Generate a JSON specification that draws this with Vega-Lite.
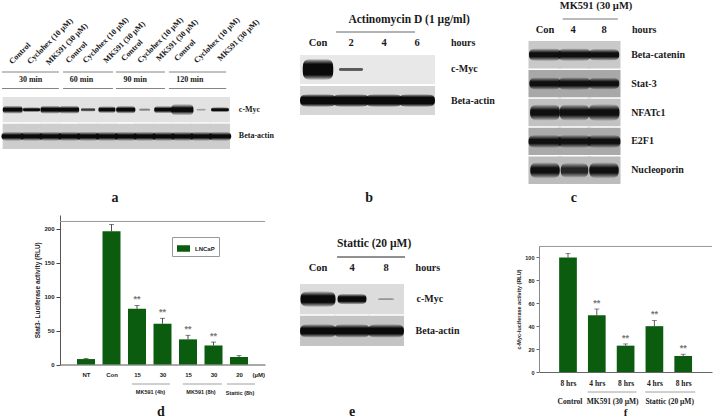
{"$schema":"https://vega.github.io/schema/vega-lite/v6.json","autosize":{"type":"none"},"padding":0,"width":713,"height":420,"background":"white","config":{"view":{"stroke":null},"text":{"font":"Liberation Serif","fontWeight":"bold","color":"#1a1a1a"}},
"resolve":{"scale":{"x":"independent","y":"independent","color":"independent","opacity":"independent","size":"independent","shape":"independent"},"axis":{"x":"independent","y":"independent"}},
"layer":[
{"data":{"values":[
{"lane":1,"protein":"c-Myc","signal":0.75,"form":"band"},{"lane":2,"protein":"c-Myc","signal":0.55,"form":"thin"},{"lane":3,"protein":"c-Myc","signal":0.75,"form":"band"},{"lane":4,"protein":"c-Myc","signal":0.75,"form":"band"},{"lane":5,"protein":"c-Myc","signal":0.38,"form":"thin"},{"lane":6,"protein":"c-Myc","signal":0.55,"form":"band"},{"lane":7,"protein":"c-Myc","signal":0.7,"form":"band"},{"lane":8,"protein":"c-Myc","signal":0.22,"form":"thin"},{"lane":9,"protein":"c-Myc","signal":0.65,"form":"band"},{"lane":10,"protein":"c-Myc","signal":0.95,"form":"thick"},{"lane":11,"protein":"c-Myc","signal":0.15,"form":"thin"},{"lane":12,"protein":"c-Myc","signal":0.6,"form":"thin"},
{"lane":1,"protein":"Beta-actin","signal":0.95,"form":"band"},{"lane":2,"protein":"Beta-actin","signal":0.95,"form":"band"},{"lane":3,"protein":"Beta-actin","signal":0.95,"form":"band"},{"lane":4,"protein":"Beta-actin","signal":0.95,"form":"band"},{"lane":5,"protein":"Beta-actin","signal":0.95,"form":"band"},{"lane":6,"protein":"Beta-actin","signal":0.95,"form":"band"},{"lane":7,"protein":"Beta-actin","signal":0.95,"form":"band"},{"lane":8,"protein":"Beta-actin","signal":0.95,"form":"band"},{"lane":9,"protein":"Beta-actin","signal":0.95,"form":"band"},{"lane":10,"protein":"Beta-actin","signal":0.95,"form":"band"},{"lane":11,"protein":"Beta-actin","signal":0.95,"form":"band"},{"lane":12,"protein":"Beta-actin","signal":0.95,"form":"band"}]},
"encoding":{"x":{"field":"lane","type":"quantitative","axis":null,"scale":{"domain":[1,12],"range":[12.7,220]}},"y":{"field":"protein","type":"nominal","axis":null,"scale":{"type":"band","domain":["c-Myc","Beta-actin"],"range":[97,149],"paddingInner":0.05,"paddingOuter":0}}},
"layer":[
{"mark":{"type":"rect","width":20},"encoding":{"color":{"field":"protein","type":"nominal","legend":null,"scale":{"domain":["c-Myc","Beta-actin"],"range":["#e2e2e2","#cdcdcd"]}}}},
{"mark":{"type":"point","filled":true,"fill":{"gradient":"linear","x1":0,"y1":0,"x2":0,"y2":1,"stops":[{"offset":0,"color":"rgba(0,0,0,0)"},{"offset":0.15,"color":"rgba(10,10,10,0.4)"},{"offset":0.35,"color":"#0a0a0a"},{"offset":0.65,"color":"#0a0a0a"},{"offset":0.85,"color":"rgba(10,10,10,0.4)"},{"offset":1,"color":"rgba(0,0,0,0)"}]},"stroke":null},"encoding":{"size":{"field":"signal","type":"quantitative","legend":null,"scale":{"domain":[0,1],"range":[0,529]}},"opacity":{"field":"signal","type":"quantitative","legend":null,"scale":{"domain":[0,0.5],"range":[0,1],"clamp":true}},"shape":{"field":"form","type":"nominal","legend":null,"scale":{"domain":["thin","band","thick"],"range":["M-1,0C-1,-.3 -.75,-.3 0,-.3S1,-.3 1,0C1,.3 .75,.3 0,.3S-1,.3 -1,0Z","M-1,0C-1,-.42 -.75,-.42 0,-.42S1,-.42 1,0C1,.42 .75,.42 0,.42S-1,.42 -1,0Z","M-1,0C-1,-.52 -.75,-.52 0,-.52S1,-.52 1,0C1,.52 .75,.52 0,.52S-1,.52 -1,0Z"]}}}},
{"data":{"values":[{"lane":13,"protein":"c-Myc"},{"lane":13,"protein":"Beta-actin"}]},"mark":{"type":"text","align":"left","fontSize":8},"encoding":{"text":{"field":"protein"}}}
]},
{"encoding":{"x":{"field":"lane","type":"quantitative","axis":null,"scale":{"domain":[1,12],"range":[12.7,220]}},"y":{"field":"level","type":"quantitative","axis":null,"scale":{"domain":[0,42],"range":[0,420]}}},
"layer":[
{"data":{"values":[{"lane":0.9,"level":6.3,"label":"Control"},{"lane":1.85,"level":6.3,"label":"Cyclohex (10 µM)"},{"lane":2.85,"level":6.4,"label":"MK591 (30 µM)"},{"lane":3.9,"level":6.2,"label":"Control"},{"lane":4.8,"level":6.2,"label":"Cyclohex (10 µM)"},{"lane":5.9,"level":6.2,"label":"MK591 (30 µM)"},{"lane":6.85,"level":6,"label":"Control"},{"lane":7.7,"level":6.2,"label":"Cyclohex (10 µM)"},{"lane":8.7,"level":6,"label":"MK591 (30 µM)"},{"lane":9.65,"level":6,"label":"Control"},{"lane":10.7,"level":6.2,"label":"Cyclohex (10 µM)"},{"lane":11.95,"level":6,"label":"MK591 (30 µM)"}]},"mark":{"type":"text","angle":315,"align":"left","baseline":"middle","fontSize":8},"encoding":{"text":{"field":"label"}}},
{"data":{"values":[{"lane":1.95,"level":8,"label":"30 min"},{"lane":4.65,"level":8,"label":"60 min"},{"lane":7.5,"level":8,"label":"90 min"},{"lane":10.4,"level":8,"label":"120 min"}]},"mark":{"type":"text","baseline":"middle","fontSize":8},"encoding":{"text":{"field":"label"}}},
{"data":{"values":[{"lane":6.43,"level":19.8,"label":"a"}]},"mark":{"type":"text","baseline":"middle","fontSize":14},"encoding":{"text":{"field":"label"}}},
{"data":{"values":[{"lane":0.43,"laneTo":3.45,"level":7.2},{"lane":3.67,"laneTo":6.32,"level":7.2},{"lane":6.48,"laneTo":9.08,"level":7.2},{"lane":9.29,"laneTo":12.33,"level":7.2},{"lane":0.43,"laneTo":3.45,"level":8.85},{"lane":3.67,"laneTo":6.32,"level":8.85},{"lane":6.48,"laneTo":9.08,"level":8.85},{"lane":9.29,"laneTo":12.33,"level":8.85}]},"mark":{"type":"rule","color":"#666","strokeWidth":0.8},"encoding":{"x2":{"field":"laneTo"}}}
]},
{"data":{"values":[
{"lane":1,"protein":"c-Myc","signal":0.72,"form":"blob"},{"lane":2,"protein":"c-Myc","signal":0.45,"form":"thin"},{"lane":3,"protein":"c-Myc","signal":0,"form":"thin"},{"lane":4,"protein":"c-Myc","signal":0,"form":"thin"},
{"lane":1,"protein":"Beta-actin","signal":1,"form":"band"},{"lane":2,"protein":"Beta-actin","signal":1,"form":"band"},{"lane":3,"protein":"Beta-actin","signal":1,"form":"band"},{"lane":4,"protein":"Beta-actin","signal":1,"form":"band"}]},
"encoding":{"x":{"field":"lane","type":"quantitative","axis":null,"scale":{"domain":[1,4],"range":[318,417]}},"y":{"field":"protein","type":"nominal","axis":null,"scale":{"type":"band","domain":["c-Myc","Beta-actin"],"range":[55,115],"paddingInner":0.07,"paddingOuter":0}}},
"layer":[
{"mark":{"type":"rect","width":36},"encoding":{"color":{"field":"protein","type":"nominal","legend":null,"scale":{"domain":["c-Myc","Beta-actin"],"range":["#e8e8e8","#d6d6d6"]}}}},
{"mark":{"type":"point","filled":true,"fill":{"gradient":"linear","x1":0,"y1":0,"x2":0,"y2":1,"stops":[{"offset":0,"color":"rgba(0,0,0,0)"},{"offset":0.1,"color":"rgba(10,10,10,0.5)"},{"offset":0.25,"color":"#0a0a0a"},{"offset":0.75,"color":"#0a0a0a"},{"offset":0.9,"color":"rgba(10,10,10,0.5)"},{"offset":1,"color":"rgba(0,0,0,0)"}]},"stroke":null},"encoding":{"size":{"field":"signal","type":"quantitative","legend":null,"scale":{"domain":[0,1],"range":[0,1296]}},"opacity":{"field":"signal","type":"quantitative","legend":null,"scale":{"domain":[0,0.7],"range":[0,1],"clamp":true}},"shape":{"field":"form","type":"nominal","legend":null,"scale":{"domain":["thin","band","blob"],"range":["M-1,0C-1,-.16 -.75,-.16 0,-.16S1,-.16 1,0C1,.16 .75,.16 0,.16S-1,.16 -1,0Z","M-1,0C-1,-.36 -.75,-.36 0,-.36S1,-.36 1,0C1,.36 .75,.36 0,.36S-1,.36 -1,0Z","M-1,0C-1,-.7 -.8,-.7 0,-.7S1,-.7 1,0C1,.7 .8,.7 0,.7S-1,.7 -1,0Z"]}}}},
{"data":{"values":[{"lane":5.03,"protein":"c-Myc"},{"lane":5.03,"protein":"Beta-actin"}]},"mark":{"type":"text","align":"left","fontSize":10},"encoding":{"text":{"field":"protein"}}}
]},
{"encoding":{"x":{"field":"lane","type":"quantitative","axis":null,"scale":{"domain":[1,4],"range":[318,417]}},"y":{"field":"level","type":"quantitative","axis":null,"scale":{"domain":[0,42],"range":[0,420]}}},
"layer":[
{"data":{"values":[{"lane":1,"level":4.3,"label":"Con"},{"lane":2,"level":4.3,"label":"2"},{"lane":3,"level":4.3,"label":"4"},{"lane":4,"level":4.3,"label":"6"}]},"mark":{"type":"text","baseline":"middle","fontSize":10.5},"encoding":{"text":{"field":"label"}}},
{"data":{"values":[{"lane":5.03,"level":4.3,"label":"hours"}]},"mark":{"type":"text","align":"left","baseline":"middle","fontSize":10},"encoding":{"text":{"field":"label"}}},
{"data":{"values":[{"lane":3.76,"level":2,"label":"Actinomycin D (1 µg/ml)"}]},"mark":{"type":"text","baseline":"middle","fontSize":11.5},"encoding":{"text":{"field":"label"}}},
{"data":{"values":[{"lane":2.55,"level":19.8,"label":"b"}]},"mark":{"type":"text","baseline":"middle","fontSize":14},"encoding":{"text":{"field":"label"}}},
{"data":{"values":[{"lane":1.55,"laneTo":3.94,"level":3.2}]},"mark":{"type":"rule","color":"#666","strokeWidth":1},"encoding":{"x2":{"field":"laneTo"}}}
]},
{"data":{"values":[
{"lane":1,"protein":"Beta-catenin","signal":0.95,"form":"band"},{"lane":2,"protein":"Beta-catenin","signal":0.95,"form":"band"},{"lane":3,"protein":"Beta-catenin","signal":0.85,"form":"band"},
{"lane":1,"protein":"Stat-3","signal":0.9,"form":"band"},{"lane":2,"protein":"Stat-3","signal":0.95,"form":"band"},{"lane":3,"protein":"Stat-3","signal":0.85,"form":"band"},
{"lane":1,"protein":"NFATc1","signal":0.82,"form":"thick"},{"lane":2,"protein":"NFATc1","signal":0.82,"form":"thick"},{"lane":3,"protein":"NFATc1","signal":0.88,"form":"thick"},
{"lane":1,"protein":"E2F1","signal":1,"form":"band"},{"lane":2,"protein":"E2F1","signal":1,"form":"band"},{"lane":3,"protein":"E2F1","signal":1,"form":"band"},
{"lane":1,"protein":"Nucleoporin","signal":0.8,"form":"thick"},{"lane":2,"protein":"Nucleoporin","signal":0.7,"form":"thick"},{"lane":3,"protein":"Nucleoporin","signal":0.8,"form":"thick"}]},
"encoding":{"x":{"field":"lane","type":"quantitative","axis":null,"scale":{"domain":[1,3],"range":[545,604]}},"y":{"field":"protein","type":"nominal","axis":null,"scale":{"type":"band","domain":["Beta-catenin","Stat-3","NFATc1","E2F1","Nucleoporin"],"range":[41,184],"paddingInner":0.05,"paddingOuter":0}}},
"layer":[
{"mark":{"type":"rect","width":33},"encoding":{"color":{"field":"protein","type":"nominal","legend":null,"scale":{"domain":["Beta-catenin","Stat-3","NFATc1","E2F1","Nucleoporin"],"range":["#c9c9c9","#a8a8a8","#c2c2c2","#aaaaaa","#bcbcbc"]}}}},
{"mark":{"type":"point","filled":true,"fill":{"gradient":"linear","x1":0,"y1":0,"x2":0,"y2":1,"stops":[{"offset":0,"color":"rgba(0,0,0,0)"},{"offset":0.15,"color":"rgba(10,10,10,0.45)"},{"offset":0.35,"color":"#0f0f0f"},{"offset":0.65,"color":"#0f0f0f"},{"offset":0.85,"color":"rgba(10,10,10,0.45)"},{"offset":1,"color":"rgba(0,0,0,0)"}]},"stroke":null},"encoding":{"size":{"field":"signal","type":"quantitative","legend":null,"scale":{"domain":[0,1],"range":[0,1089]}},"opacity":{"field":"signal","type":"quantitative","legend":null,"scale":{"domain":[0,0.8],"range":[0,1],"clamp":true}},"shape":{"field":"form","type":"nominal","legend":null,"scale":{"domain":["band","thick"],"range":["M-1,0C-1,-.4 -.75,-.4 0,-.4S1,-.4 1,0C1,.4 .75,.4 0,.4S-1,.4 -1,0Z","M-1,0C-1,-.55 -.75,-.55 0,-.55S1,-.55 1,0C1,.55 .75,.55 0,.55S-1,.55 -1,0Z"]}}}},
{"data":{"values":[{"lane":3.92,"protein":"Beta-catenin"},{"lane":3.92,"protein":"Stat-3"},{"lane":3.92,"protein":"NFATc1"},{"lane":3.92,"protein":"E2F1"},{"lane":3.92,"protein":"Nucleoporin"}]},"mark":{"type":"text","align":"left","fontSize":10},"encoding":{"text":{"field":"protein"}}}
]},
{"encoding":{"x":{"field":"lane","type":"quantitative","axis":null,"scale":{"domain":[1,3],"range":[545,604]}},"y":{"field":"level","type":"quantitative","axis":null,"scale":{"domain":[0,42],"range":[0,420]}}},
"layer":[
{"data":{"values":[{"lane":1,"level":2.95,"label":"Con"},{"lane":1.95,"level":2.95,"label":"4"},{"lane":3,"level":2.95,"label":"8"}]},"mark":{"type":"text","baseline":"middle","fontSize":10.5},"encoding":{"text":{"field":"label"}}},
{"data":{"values":[{"lane":3.95,"level":2.95,"label":"hours"}]},"mark":{"type":"text","align":"left","baseline":"middle","fontSize":10},"encoding":{"text":{"field":"label"}}},
{"data":{"values":[{"lane":2.73,"level":0.55,"label":"MK591 (30 µM)"}]},"mark":{"type":"text","baseline":"middle","fontSize":10.5},"encoding":{"text":{"field":"label"}}},
{"data":{"values":[{"lane":1.98,"level":19.8,"label":"c"}]},"mark":{"type":"text","baseline":"middle","fontSize":14},"encoding":{"text":{"field":"label"}}},
{"data":{"values":[{"lane":1.6,"laneTo":3.47,"level":1.9}]},"mark":{"type":"rule","color":"#777","strokeWidth":1},"encoding":{"x2":{"field":"laneTo"}}}
]},
{"data":{"values":[
{"slot":1,"label":"NT","rlu":8,"upper":9,"series":"LNCaP","sig":""},{"slot":2,"label":"Con","rlu":196,"upper":206,"series":"LNCaP","sig":""},{"slot":3,"label":"15","rlu":82,"upper":87,"series":"LNCaP","sig":"**"},{"slot":4,"label":"30","rlu":60,"upper":68,"series":"LNCaP","sig":"**"},{"slot":5,"label":"15","rlu":37,"upper":43,"series":"LNCaP","sig":"**"},{"slot":6,"label":"30","rlu":28,"upper":33,"series":"LNCaP","sig":"**"},{"slot":7,"label":"20","rlu":11,"upper":13,"series":"LNCaP","sig":""}]},
"encoding":{"x":{"field":"slot","type":"quantitative","scale":{"domain":[-0.02,8.02],"range":[60,265],"padding":0},"title":null,"axis":{"orient":"bottom","offset":-55.5,"values":[1,2,3,4,5,6,7,8],"labelExpr":"['NT','Con','15','30','15','30','20','(µM)'][datum.value-1]","grid":false,"ticks":false,"labelPadding":7,"labelFont":"Liberation Sans","labelFontWeight":"bold","labelFontSize":6,"labelColor":"#222","domainColor":"#555","labelOverlap":false}}},
"layer":[
{"data":{"values":[{"slot":-0.02,"slotTo":8.02,"rlu":210.5}]},"mark":{"type":"rule","color":"#999","strokeWidth":1},"encoding":{"y":{"field":"rlu","type":"quantitative"},"x2":{"field":"slotTo"}}},
{"mark":{"type":"bar","size":18,"orient":"vertical"},"encoding":{"y":{"field":"rlu","type":"quantitative","scale":{"domain":[0,210.5],"range":[364.5,215],"padding":0},"title":"Stat3- Luciferase activity (RLU)","axis":{"orient":"left","offset":-60,"values":[0,50,100,150,200],"grid":false,"labelFont":"Liberation Sans","labelFontWeight":"bold","labelFontSize":6,"labelColor":"#222","tickColor":"#444","tickSize":4,"domainColor":"#555","labelPadding":2,"titleFont":"Liberation Sans","titleFontWeight":"bold","titleFontSize":6.5,"titleColor":"#222","titlePadding":3}},"color":{"field":"series","type":"nominal","scale":{"domain":["LNCaP"],"range":["#0c5c10"]},"legend":{"orient":"none","legendX":172,"legendY":237,"title":null,"padding":4,"strokeColor":"#999","fillColor":"white","symbolType":"M-1,-.5H1V.5H-1Z","symbolSize":170,"labelFont":"Liberation Sans","labelFontWeight":"bold","labelFontSize":6,"labelColor":"#222"}}}},
{"mark":{"type":"rule","color":"#222","strokeWidth":0.8},"encoding":{"y":{"field":"rlu","type":"quantitative"},"y2":{"field":"upper"}}},
{"mark":{"type":"tick","orient":"horizontal","size":5,"thickness":0.8,"color":"#222"},"encoding":{"y":{"field":"upper","type":"quantitative"}}},
{"transform":[{"filter":"datum.sig==='**'"}],"mark":{"type":"text","font":"Liberation Sans","fontSize":9,"dy":-6,"baseline":"middle","color":"#777"},"encoding":{"y":{"field":"upper","type":"quantitative"},"text":{"field":"sig"}}}
]},
{"encoding":{"x":{"field":"slot","type":"quantitative","axis":null,"scale":{"domain":[-0.02,8.02],"range":[60,265]}},"y":{"field":"level","type":"quantitative","axis":null,"scale":{"domain":[0,42],"range":[0,420]}}},
"layer":[
{"data":{"values":[{"slot":2.8,"slotTo":4.29,"level":38.4},{"slot":4.8,"slotTo":6.33,"level":38.4},{"slot":6.53,"slotTo":7.63,"level":38.4}]},"mark":{"type":"rule","color":"#888","strokeWidth":0.8},"encoding":{"x2":{"field":"slotTo"}}},
{"data":{"values":[{"slot":3.53,"level":39.2,"label":"MK591 (4h)"},{"slot":5.51,"level":39.2,"label":"MK591 (8h)"},{"slot":7.04,"level":39.3,"label":"Stattic (8h)"}]},"mark":{"type":"text","font":"Liberation Sans","baseline":"middle","fontSize":5.5},"encoding":{"text":{"field":"label"}}},
{"data":{"values":[{"slot":3.94,"level":41.2,"label":"d"}]},"mark":{"type":"text","baseline":"middle","fontSize":14},"encoding":{"text":{"field":"label"}}}
]},
{"data":{"values":[
{"lane":1,"protein":"c-Myc","signal":0.95,"form":"thick"},{"lane":2,"protein":"c-Myc","signal":0.65,"form":"band"},{"lane":3,"protein":"c-Myc","signal":0.2,"form":"thin"},
{"lane":1,"protein":"Beta-actin","signal":1,"form":"band"},{"lane":2,"protein":"Beta-actin","signal":1,"form":"band"},{"lane":3,"protein":"Beta-actin","signal":1,"form":"band"}]},
"encoding":{"x":{"field":"lane","type":"quantitative","axis":null,"scale":{"domain":[1,3],"range":[318,386]}},"y":{"field":"protein","type":"nominal","axis":null,"scale":{"type":"band","domain":["c-Myc","Beta-actin"],"range":[284,346],"paddingInner":0.05,"paddingOuter":0}}},
"layer":[
{"mark":{"type":"rect","width":36},"encoding":{"color":{"field":"protein","type":"nominal","legend":null,"scale":{"domain":["c-Myc","Beta-actin"],"range":["#dcdcdc","#c4c4c4"]}}}},
{"mark":{"type":"point","filled":true,"fill":{"gradient":"linear","x1":0,"y1":0,"x2":0,"y2":1,"stops":[{"offset":0,"color":"rgba(0,0,0,0)"},{"offset":0.12,"color":"rgba(10,10,10,0.45)"},{"offset":0.3,"color":"#0a0a0a"},{"offset":0.7,"color":"#0a0a0a"},{"offset":0.88,"color":"rgba(10,10,10,0.45)"},{"offset":1,"color":"rgba(0,0,0,0)"}]},"stroke":null},"encoding":{"size":{"field":"signal","type":"quantitative","legend":null,"scale":{"domain":[0,1],"range":[0,1296]}},"opacity":{"field":"signal","type":"quantitative","legend":null,"scale":{"domain":[0,0.6],"range":[0,1],"clamp":true}},"shape":{"field":"form","type":"nominal","legend":null,"scale":{"domain":["thin","band","thick"],"range":["M-1,0C-1,-.14 -.75,-.14 0,-.14S1,-.14 1,0C1,.14 .75,.14 0,.14S-1,.14 -1,0Z","M-1,0C-1,-.38 -.75,-.38 0,-.38S1,-.38 1,0C1,.38 .75,.38 0,.38S-1,.38 -1,0Z","M-1,0C-1,-.46 -.75,-.46 0,-.46S1,-.46 1,0C1,.46 .75,.46 0,.46S-1,.46 -1,0Z"]}}}},
{"data":{"values":[{"lane":3.9,"protein":"c-Myc"},{"lane":3.87,"protein":"Beta-actin"}]},"mark":{"type":"text","align":"left","fontSize":10},"encoding":{"text":{"field":"protein"}}}
]},
{"encoding":{"x":{"field":"lane","type":"quantitative","axis":null,"scale":{"domain":[1,3],"range":[318,386]}},"y":{"field":"level","type":"quantitative","axis":null,"scale":{"domain":[0,42],"range":[0,420]}}},
"layer":[
{"data":{"values":[{"lane":1,"level":26.8,"label":"Con"},{"lane":2,"level":26.8,"label":"4"},{"lane":3,"level":26.8,"label":"8"}]},"mark":{"type":"text","baseline":"middle","fontSize":10.5},"encoding":{"text":{"field":"label"}}},
{"data":{"values":[{"lane":3.87,"level":26.8,"label":"hours"}]},"mark":{"type":"text","align":"left","baseline":"middle","fontSize":10},"encoding":{"text":{"field":"label"}}},
{"data":{"values":[{"lane":2.65,"level":24.4,"label":"Stattic (20 µM)"}]},"mark":{"type":"text","baseline":"middle","fontSize":11.5},"encoding":{"text":{"field":"label"}}},
{"data":{"values":[{"lane":2,"level":41.2,"label":"e"}]},"mark":{"type":"text","baseline":"middle","fontSize":14},"encoding":{"text":{"field":"label"}}},
{"data":{"values":[{"lane":1.56,"laneTo":3.56,"level":25.7}]},"mark":{"type":"rule","color":"#222","strokeWidth":1},"encoding":{"x2":{"field":"laneTo"}}}
]},
{"data":{"values":[
{"slot":1,"rlu":100,"upper":103.5,"sig":""},{"slot":2,"rlu":49.5,"upper":55,"sig":"**"},{"slot":3,"rlu":23,"upper":24.5,"sig":"**"},{"slot":4,"rlu":40,"upper":45,"sig":"**"},{"slot":5,"rlu":14,"upper":15.5,"sig":"**"}]},
"encoding":{"x":{"field":"slot","type":"quantitative","scale":{"domain":[0,6],"range":[539.2,712],"padding":0},"title":null,"axis":{"orient":"bottom","offset":-48,"values":[1,2,3,4,5],"labelExpr":"['8 hrs','4 hrs','8 hrs','4 hrs','8 hrs'][datum.value-1]","grid":false,"ticks":false,"labelPadding":7,"labelFont":"Liberation Serif","labelFontWeight":"bold","labelFontSize":7.5,"labelColor":"#222","domainColor":"#666","labelOverlap":false}}},
"layer":[
{"data":{"values":[{"slot":0,"slotTo":6,"rlu":109.6}]},"mark":{"type":"rule","color":"#999","strokeWidth":1},"encoding":{"y":{"field":"rlu","type":"quantitative"},"x2":{"field":"slotTo"}}},
{"mark":{"type":"bar","size":17.7,"orient":"vertical","color":"#0c5c10"},"encoding":{"y":{"field":"rlu","type":"quantitative","scale":{"domain":[0,109.6],"range":[372,246],"padding":0},"title":"c-Myc-luciferase activity (RLU)","axis":{"orient":"left","offset":-539,"values":[0,20,40,60,80,100],"grid":false,"labelFont":"Liberation Sans","labelFontWeight":"bold","labelFontSize":5.5,"labelColor":"#222","tickColor":"#666","tickSize":3,"domainColor":"#888","labelPadding":2,"titleFont":"Liberation Sans","titleFontWeight":"bold","titleFontSize":5.5,"titleColor":"#222","titlePadding":3}}}},
{"mark":{"type":"rule","color":"#333","strokeWidth":0.8},"encoding":{"y":{"field":"rlu","type":"quantitative"},"y2":{"field":"upper"}}},
{"mark":{"type":"tick","orient":"horizontal","size":5,"thickness":0.8,"color":"#333"},"encoding":{"y":{"field":"upper","type":"quantitative"}}},
{"transform":[{"filter":"datum.sig==='**'"}],"mark":{"type":"text","font":"Liberation Sans","fontSize":9,"dy":-6,"baseline":"middle","color":"#777"},"encoding":{"y":{"field":"upper","type":"quantitative"},"text":{"field":"sig"}}}
]},
{"encoding":{"x":{"field":"slot","type":"quantitative","axis":null,"scale":{"domain":[0,6],"range":[539.2,712]}},"y":{"field":"level","type":"quantitative","axis":null,"scale":{"domain":[0,42],"range":[0,420]}}},
"layer":[
{"data":{"values":[{"slot":1.68,"slotTo":3.38,"level":39.2},{"slot":3.68,"slotTo":5.42,"level":39.2}]},"mark":{"type":"rule","color":"#888","strokeWidth":0.8},"encoding":{"x2":{"field":"slotTo"}}},
{"data":{"values":[{"slot":1.07,"level":40.2,"label":"Control"},{"slot":2.55,"level":40.2,"label":"MK591 (30 µM)"},{"slot":4.53,"level":40.2,"label":"Stattic (20 µM)"}]},"mark":{"type":"text","baseline":"middle","fontSize":7.5},"encoding":{"text":{"field":"label"}}},
{"data":{"values":[{"slot":3,"level":41.25,"label":"f"}]},"mark":{"type":"text","baseline":"middle","fontSize":11},"encoding":{"text":{"field":"label"}}}
]}
]}
